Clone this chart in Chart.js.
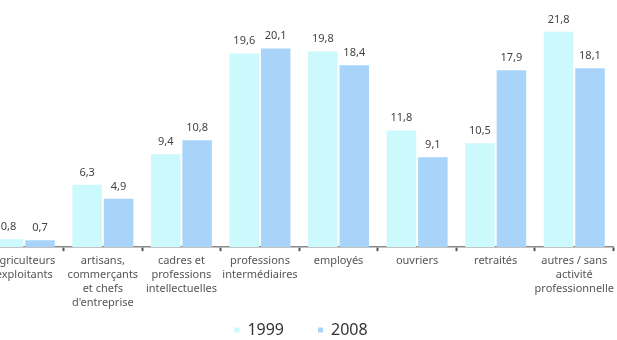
<!DOCTYPE html>
<html>
<head>
<meta charset="utf-8">
<script src="https://cdn.jsdelivr.net/npm/chart.js@4/dist/chart.umd.min.js"></script>
<style>
  html, body { margin: 0; padding: 0; background: #fff; overflow: hidden; }
  #wrap { position: absolute; left: -15px; top: 0; width: 632px; height: 340px; }
</style>
</head>
<body>
<div id="wrap"><canvas id="chart"></canvas></div>
<script>
// categories socio-professionnelles
const categories = [
  ["agriculteurs", "exploitants"],
  ["artisans,", "commerçants", "et chefs", "d'entreprise"],
  ["cadres et", "professions", "intellectuelles"],
  ["professions", "intermédiaires"],
  "employés",
  "ouvriers",
  "retraités",
  ["autres / sans", "activité", "professionnelle"]
];
const years = ["1999", "2008"];
const values1999 = [0.8, 6.3, 9.4, 19.6, 19.8, 11.8, 10.5, 21.8];
const values2008 = [0.7, 4.9, 10.8, 20.1, 18.4, 9.1, 17.9, 18.1];

const FONT = "'Noto Sans', sans-serif";

// writes the value above each bar, french decimal comma
const barValues = {
  id: 'barValues',
  afterDatasetsDraw(chart) {
    const ctx = chart.ctx;
    ctx.save();
    ctx.font = "11px " + FONT;
    ctx.fillStyle = "#444";
    ctx.textAlign = "center";
    ctx.textBaseline = "alphabetic";
    chart.data.datasets.forEach((ds, i) => {
      chart.getDatasetMeta(i).data.forEach((bar, j) => {
        const txt = ds.data[j].toFixed(1).replace('.', ',');
        ctx.fillText(txt, bar.x, bar.y - 9);
      });
    });
    ctx.restore();
  }
};

new Chart(document.getElementById('chart'), {
  type: 'bar',
  data: {
    labels: categories,
    datasets: [
      { label: years[0], data: values1999, backgroundColor: '#ccf9fc' },
      { label: years[1], data: values2008, backgroundColor: '#a9d4fa' }
    ]
  },
  options: {
    responsive: true,
    maintainAspectRatio: false,
    animation: false,
    layout: { padding: { top: 0, left: 0, right: 0, bottom: -8 } },
    datasets: {
      bar: { categoryPercentage: 0.8, barPercentage: 0.94 }
    },
    scales: {
      x: {
        grid: {
          offset: true,
          drawOnChartArea: false,
          drawTicks: true,
          tickLength: 4,
          tickWidth: 2,
          tickColor: '#555'
        },
        border: { display: true, color: '#888', width: 1.5 },
        ticks: {
          color: '#555',
          padding: 3,
          maxRotation: 0,
          autoSkip: false,
          font: { family: FONT, size: 11, lineHeight: 1.27 }
        }
      },
      y: {
        display: false,
        min: 0,
        max: 25
      }
    },
    plugins: {
      legend: {
        position: 'bottom',
        labels: {
          color: '#333',
          boxWidth: 5,
          boxHeight: 5,
          padding: 9,
          font: { family: FONT, size: 16 },
          // small padding keeps the legend short, so widen the gap
          // between the two entries with trailing spaces instead
          generateLabels(chart) {
            const items = Chart.defaults.plugins.legend.labels.generateLabels(chart);
            items[0].text += '      ';
            return items;
          }
        }
      },
      tooltip: { enabled: false }
    }
  },
  plugins: [barValues]
});
</script>
</body>
</html>
